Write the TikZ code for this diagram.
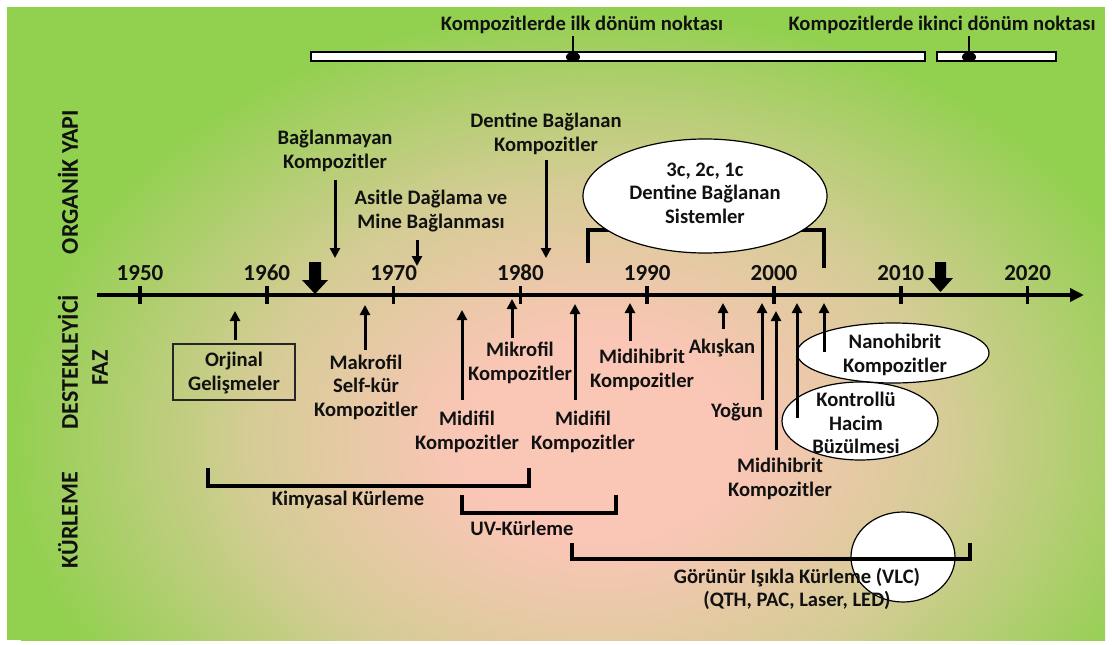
\documentclass[tikz,border=0pt]{standalone}
\usepackage{fontspec}
\setmainfont{Carlito}
\usetikzlibrary{arrows.meta}
\definecolor{bggreen}{RGB}{146,208,80}
\definecolor{bgtan}{RGB}{214,204,150}
\definecolor{bgpink}{RGB}{250,198,182}
\definecolor{txt}{RGB}{17,17,17}
\pgfdeclareradialshading{bgshade}{\pgfpoint{0bp}{0bp}}{color(0bp)=(bgpink); color(5.5bp)=(bgpink); color(13.5bp)=(bgtan); color(23bp)=(bggreen); color(50bp)=(bggreen)}
\tikzset{
  lbl/.style={font=\bfseries\fontsize{20.6}{23.5}\selectfont, text=txt, inner sep=0pt, align=center},
  yr/.style={font=\bfseries\fontsize{23}{26}\selectfont, text=txt, inner sep=0pt},
  side/.style={font=\bfseries\fontsize{24}{28}\selectfont, text=txt, inner sep=0pt, rotate=90},
  axisline/.style={line width=4pt, -{Triangle[length=14pt,width=13pt]}},
  tick/.style={line width=3.5pt},
  arr/.style={line width=3pt, -{Triangle[length=10pt,width=10pt]}},
  bracket/.style={line width=3.2pt},
  whitebar/.style={draw=black, fill=white, line width=1.4pt},
  ellbox/.style={draw=black, fill=white, line width=1.2pt},
}
\begin{document}
\begin{tikzpicture}[x=1pt,y=-1pt]
\useasboundingbox (0,0) rectangle (1112,645);
% background
\fill[white] (0,0) rectangle (1112,645);
\begin{scope}
\clip (7,7) rectangle (1105,640);
\fill[bggreen] (7,7) rectangle (1105,640);
\shade[shading=bgshade] (600,440) ellipse [x radius=640pt, y radius=470pt];
\end{scope}

% top turning points
\node[lbl] (tp1) at (582,25) {Kompozitlerde ilk dönüm noktası};
\node[lbl] (tp2) at (942,25) {Kompozitlerde ikinci dönüm noktası};
\draw[whitebar] (311,52) rectangle (925,61);
\draw[whitebar] (937,52) rectangle (1056,61);
\coordinate (m1t) at (573,36); \coordinate (m1b) at (573,57);
\coordinate (m2t) at (969,36); \coordinate (m2b) at (969,57);
\draw[line width=2.6pt] (m1t) -- (m1b);
\draw[line width=2.6pt] (m2t) -- (m2b);
\fill (m1b) ellipse [x radius=7pt, y radius=5pt];
\fill (m2b) ellipse [x radius=7pt, y radius=5pt];

% side labels
\node[side] (org) at (68,182) {ORGANİK YAPI};
\node[side] (des) at (68,362) {DESTEKLEYİCİ};
\node[side] (faz) at (100,368) {FAZ};
\node[side] (kur) at (68,520) {KÜRLEME};

% bracket + ellipse for dentin bonding systems
\coordinate (b1a) at (588,263); \coordinate (b1b) at (588,230);
\coordinate (b1c) at (824,230); \coordinate (b1d) at (824,268);
\draw[bracket] (b1a) -- (b1b) -- (b1c) -- (b1d);
\draw[ellbox] (705,196) ellipse [x radius=122pt, y radius=57pt];
\node[lbl] (sys) at (705,193) {3c, 2c, 1c\\Dentine Bağlanan\\Sistemler};

% axis
\coordinate (ax0) at (97,295); \coordinate (ax1) at (1084,295);
\draw[axisline] (ax0) -- (ax1);
\foreach \yy [count=\i from 0] in {1950,1960,1970,1980,1990,2000,2010,2020}{
  \pgfmathsetmacro{\xx}{140+126.8*\i}
  \draw[tick] (\xx,286) -- (\xx,304);
  \node[yr] (y\yy) at (\xx,273) {\yy};
}

% block arrows
\fill (309,262) -- (321,262) -- (321,280) -- (328,280) -- (315,294) -- (302,280) -- (309,280) -- cycle;
\fill (935,262) -- (946,262) -- (946,278) -- (953,278) -- (940.5,292) -- (928,278) -- (935,278) -- cycle;

% organic structure (above axis)
\node[lbl] (bag) at (335,151) {Bağlanmayan\\Kompozitler};
\node[lbl] (asi) at (431,211) {Asitle Dağlama ve\\Mine Bağlanması};
\node[lbl] (den) at (546,134) {Dentine Bağlanan\\Kompozitler};
\coordinate (a1s) at (335,180); \coordinate (a1e) at (335,258);
\coordinate (a2s) at (417,240); \coordinate (a2e) at (417,266);
\coordinate (a3s) at (546,160); \coordinate (a3e) at (546,258);
\draw[arr] (a1s) -- (a1e);
\draw[arr] (a2s) -- (a2e);
\draw[arr] (a3s) -- (a3e);

% filler phase
\draw[line width=1.2pt, draw=black!85] (173,344) rectangle (295,400);
\node[lbl] (orj) at (234,373) {Orjinal\\Gelişmeler};
\node[lbl] (mak) at (366,387) {Makrofil\\Self-kür\\Kompozitler};
\node[lbl] (mid1) at (467,432) {Midifil\\Kompozitler};
\node[lbl] (mik) at (520,363) {Mikrofil\\Kompozitler};
\node[lbl] (mid2) at (583,432) {Midifil\\Kompozitler};
\node[lbl] (mhb1) at (642,370) {Midihibrit\\Kompozitler};
\node[lbl] (aki) at (722,348) {Akışkan};
\node[lbl] (yog) at (737,412) {Yoğun};
\node[lbl] (mhb2) at (780,479) {Midihibrit\\Kompozitler};
\draw[ellbox] (893,353) ellipse [x radius=96pt, y radius=30pt];
\node[lbl] (nan) at (895,355) {Nanohibrit\\Kompozitler};
\draw[ellbox] (860,421) ellipse [x radius=78pt, y radius=39pt];
\node[lbl] (kon) at (856,423) {Kontrollü\\Hacim\\Büzülmesi};

\coordinate (u1s) at (235,340); \coordinate (u1e) at (235,311);
\coordinate (u2s) at (365,350); \coordinate (u2e) at (365,305);
\coordinate (u3s) at (462,400); \coordinate (u3e) at (462,310);
\coordinate (u4s) at (512,338); \coordinate (u4e) at (512,299);
\coordinate (u5s) at (575,400); \coordinate (u5e) at (575,304);
\coordinate (u6s) at (630,341); \coordinate (u6e) at (630,303);
\coordinate (u7s) at (723,329); \coordinate (u7e) at (723,303);
\coordinate (u8s) at (762,400); \coordinate (u8e) at (762,303);
\coordinate (u9s) at (776,450); \coordinate (u9e) at (776,311);
\coordinate (u10s) at (797,418); \coordinate (u10e) at (797,303);
\coordinate (u11s) at (824,352); \coordinate (u11e) at (824,303);
\foreach \k in {1,...,11}{ \draw[arr] (u\k s) -- (u\k e); }

% curing
\coordinate (k1) at (208,468); \coordinate (k2) at (208,486);
\coordinate (k3) at (529,486); \coordinate (k4) at (529,468);
\draw[bracket] (k1) -- (k2) -- (k3) -- (k4);
\node[lbl] (kim) at (348,500) {Kimyasal Kürleme};
\coordinate (v1) at (462,495); \coordinate (v2) at (462,513);
\coordinate (v3) at (616,513); \coordinate (v4) at (616,495);
\draw[bracket] (v1) -- (v2) -- (v3) -- (v4);
\node[lbl] (uvk) at (522,528) {UV-Kürleme};
\draw[ellbox] (903,557) ellipse [x radius=52pt, y radius=45pt];
\coordinate (g1) at (572,543); \coordinate (g2) at (572,559);
\coordinate (g3) at (970,559); \coordinate (g4) at (970,543);
\draw[bracket] (g1) -- (g2) -- (g3) -- (g4);
\node[lbl] (vlc) at (797,589) {Görünür Işıkla Kürleme (VLC)\\(QTH, PAC, Laser, LED)};
\end{tikzpicture}
\end{document}
